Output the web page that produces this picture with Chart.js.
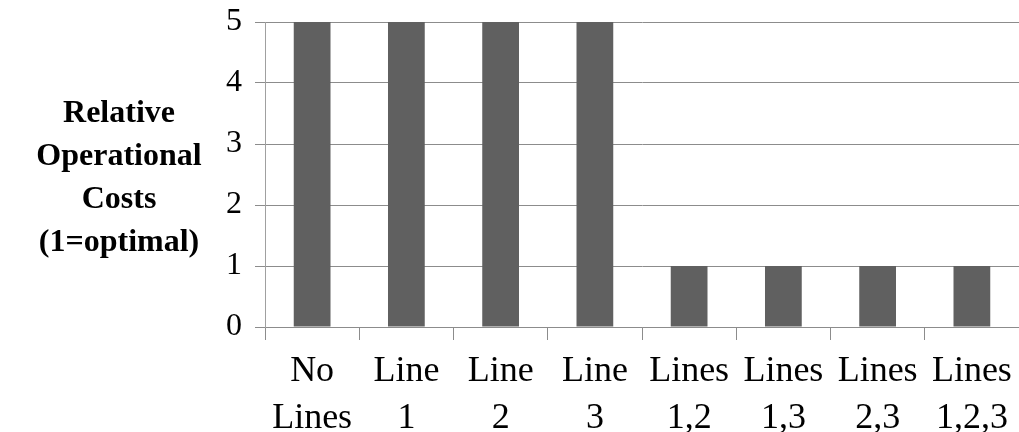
<!DOCTYPE html>
<html>
<head>
<meta charset="utf-8">
<script src="https://cdn.jsdelivr.net/npm/chart.js@4"></script>
<style>
  html, body { margin: 0; padding: 0; background: #fff; }
  #wrap { width: 1019px; height: 432px; }
</style>
</head>
<body>
<div id="wrap"><canvas id="chart"></canvas></div>
<script>
var categories = [['No', 'Lines'], ['Line', '1'], ['Line', '2'], ['Line', '3'],
                  ['Lines', '1,2'], ['Lines', '1,3'], ['Lines', '2,3'], ['Lines', '1,2,3']];
var costs = [5, 5, 5, 5, 1, 1, 1, 1];
var titleLines = ['Relative', 'Operational', 'Costs', '(1=optimal)'];

var fam = '"Liberation Serif"';

// y title is drawn horizontally, Chart.js only does rotated ones
var sideTitle = {
    id: 'sideTitle',
    afterDraw: function(chart) {
        var c = chart.ctx;
        var area = chart.chartArea;
        var mid = (area.top + area.bottom) / 2 + 4;
        var step = 43;
        c.save();
        c.font = 'bold 32px ' + fam;
        c.fillStyle = '#000';
        c.textAlign = 'center';
        c.textBaseline = 'middle';
        titleLines.forEach(function(t, i) {
            c.fillText(t, 119, mid + (i - (titleLines.length - 1) / 2) * step);
        });
        c.restore();
    }
};

var ctx = document.getElementById('chart').getContext('2d');
var myChart = new Chart(ctx, {
    type: 'bar',
    data: {
        labels: categories,
        datasets: [{
            data: costs,
            backgroundColor: '#606060',
            borderWidth: 0,
            categoryPercentage: 1,
            barPercentage: 0.39
        }]
    },
    options: {
        responsive: true,
        maintainAspectRatio: false,
        animation: false,
        layout: { padding: { top: 22, right: 0, bottom: 0, left: 0 } },
        plugins: {
            legend: { display: false },
            tooltip: { enabled: false }
        },
        scales: {
            x: {
                grid: {
                    offset: true,
                    drawOnChartArea: false,
                    drawTicks: true,
                    tickLength: 13,
                    color: '#8c8c8c'
                },
                border: { color: '#8c8c8c' },
                ticks: {
                    color: '#000',
                    padding: 8,
                    maxRotation: 0,
                    autoSkip: false,
                    font: { family: fam, size: 36, lineHeight: '47px' }
                },
                afterFit: function(scale) {
                    scale.height = 105;
                    scale.paddingLeft = 0;
                    scale.paddingRight = 0;
                }
            },
            y: {
                min: 0,
                max: 5,
                ticks: {
                    stepSize: 1,
                    color: '#000',
                    padding: 13,
                    font: { family: fam, size: 32, lineHeight: 1 }
                },
                grid: { color: '#8c8c8c', tickLength: 10 },
                border: { color: '#a0a0a0' },
                afterFit: function(scale) {
                    scale.width = 265;
                    scale.paddingTop = 0;
                    scale.paddingBottom = 0;
                }
            }
        }
    },
    plugins: [sideTitle]
});
</script>
</body>
</html>
